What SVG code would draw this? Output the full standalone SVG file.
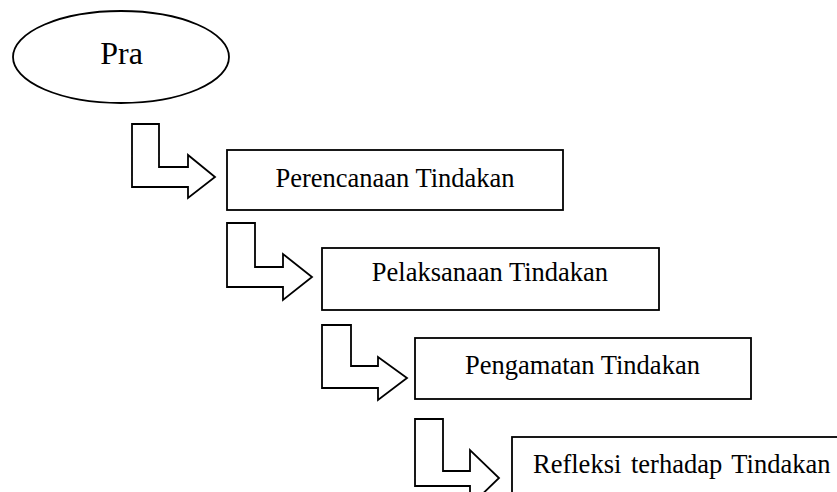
<svg xmlns="http://www.w3.org/2000/svg" width="837" height="492" viewBox="0 0 837 492">
<style>
.s{fill:#fff;stroke:#000;stroke-width:1.8;stroke-linejoin:miter}
.t{font-family:"Liberation Serif","Times New Roman",serif;font-size:26.5px;fill:#000}
</style>
<rect width="837" height="492" fill="#fff"/>
<g id="pra">
<ellipse class="s" cx="121" cy="57" rx="108" ry="46"/>
<text class="t" x="121.5" y="64" text-anchor="middle" style="font-size:32px">Pra</text>
</g>
<g id="connectors">
<path class="s" d="M132,124 H159 V167 H188 V155 L215,177 L188,198 V187 H132 Z"/>
<path class="s" d="M227,223 H255 V267 H283 V254 L312,277 L283,300 V287 H227 Z"/>
<path class="s" d="M322,325 H351 V366 H378 V357 L407,378 L378,400 V388 H322 Z"/>
<path class="s" d="M415,419 H443 V471 H470 V450 L499,478 L470,506 V486 H415 Z"/>
</g>
<g id="perencanaan">
<rect class="s" x="227" y="150" width="336" height="60"/>
<text class="t" x="395" y="186.7" text-anchor="middle">Perencanaan Tindakan</text>
</g>
<g id="pelaksanaan">
<rect class="s" x="322" y="248" width="337" height="62"/>
<text class="t" x="490" y="281" text-anchor="middle">Pelaksanaan Tindakan</text>
</g>
<g id="pengamatan">
<rect class="s" x="415" y="338" width="336" height="61"/>
<text class="t" x="582.5" y="374.3" text-anchor="middle">Pengamatan Tindakan</text>
</g>
<g id="refleksi">
<rect class="s" x="512" y="437" width="340" height="80"/>
<text class="t" x="533" y="473.3" word-spacing="3">Refleksi terhadap Tindakan</text>
</g>
</svg>
